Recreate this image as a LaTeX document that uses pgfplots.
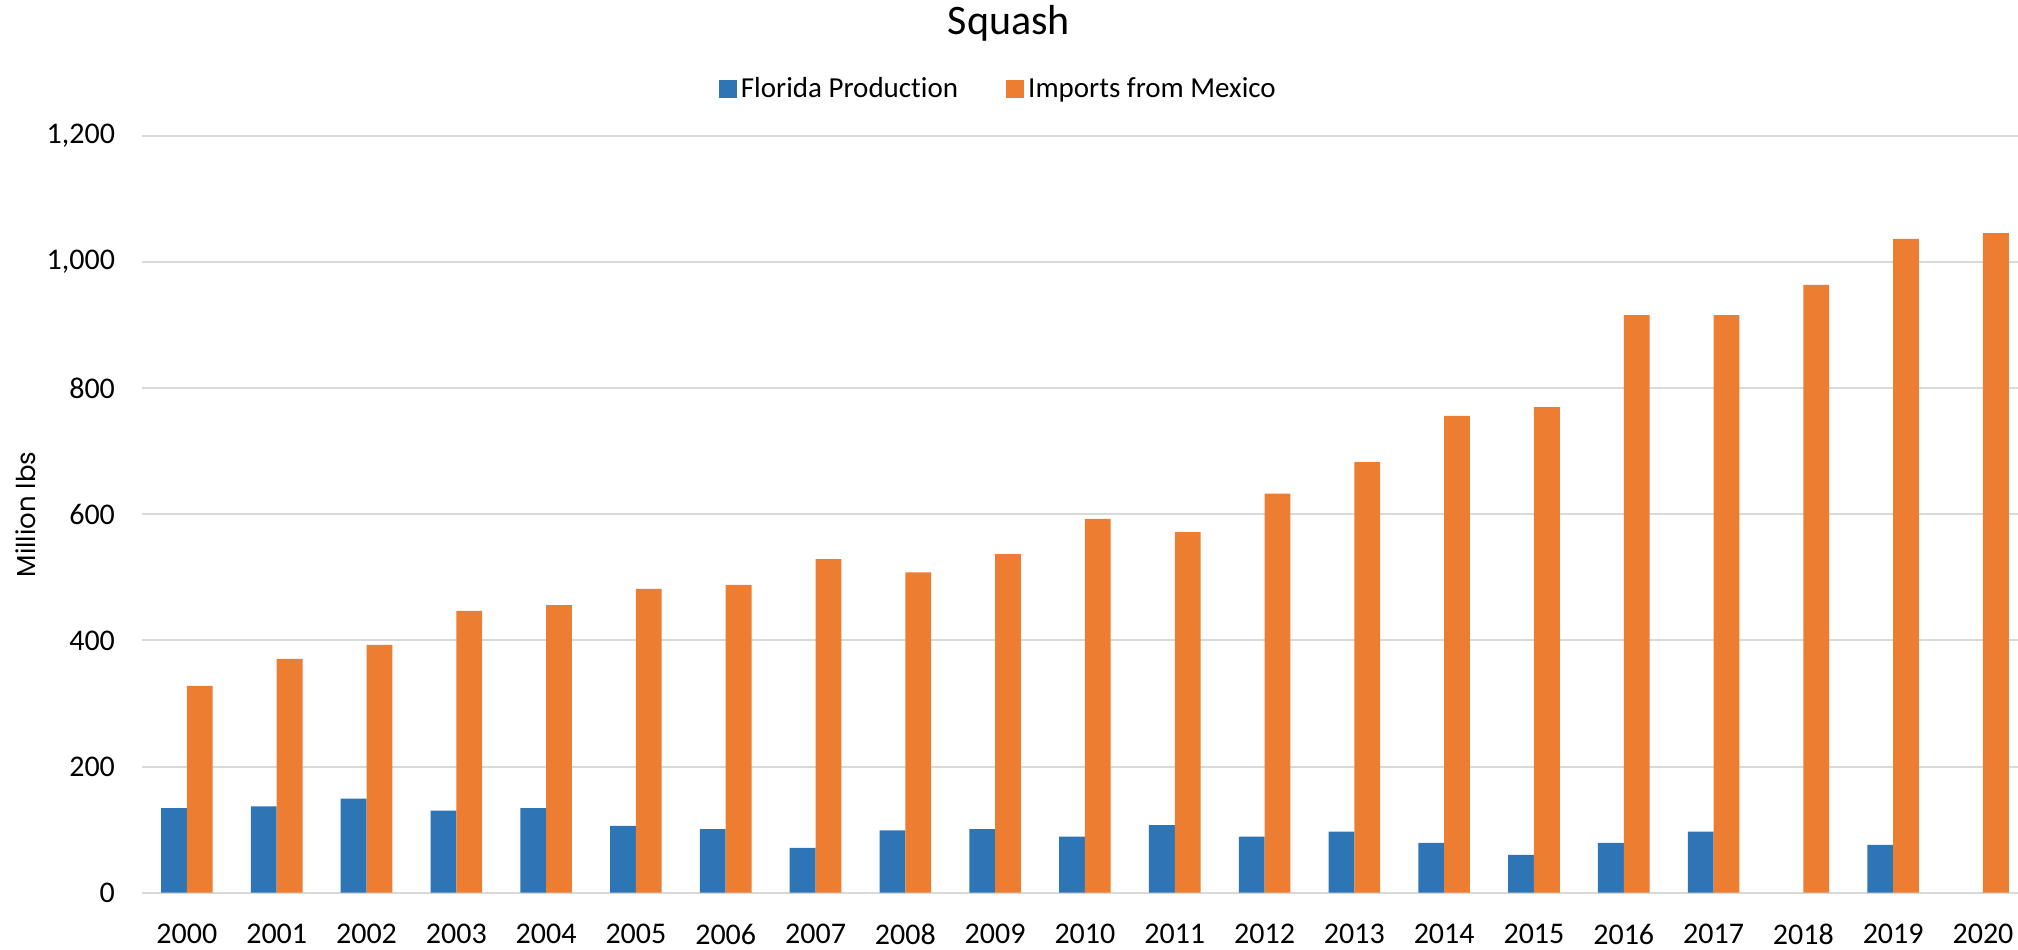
\documentclass[border=0pt]{standalone}
\usepackage{fontspec}
\setmainfont{Carlito}[Ligatures=NoCommon]
\newfontfamily\ylfont{Poppins}
\usepackage{pgfplots}
\pgfplotsset{compat=1.18}
\definecolor{cblue}{HTML}{2E75B6}
\definecolor{corange}{HTML}{ED7D31}
\definecolor{cgrid}{HTML}{D9D9D9}
\begin{document}
\begin{tikzpicture}
\path[use as bounding box] (-71pt,-28.15pt) rectangle (938pt,446.35pt);
\begin{axis}[
  at={(0,0)}, anchor=south west,
  scale only axis,
  width=938pt, height=378.35pt,
  xmin=-0.5, xmax=20.39,
  ymin=0, ymax=1200,
  ytick={0,200,400,600,800,1000,1200},
  xtick={0,...,20},
  xticklabels={2000,2001,2002,2003,2004,2005,2006,2007,2008,2009,2010,2011,2012,2013,2014,2015,2016,2017,2018,2019,2020},
  ybar=0pt, bar width=12.9pt,
  axis line style={draw=none},
  tick style={draw=none},
  ymajorgrids,
  major grid style={color=cgrid, line width=1pt},
  /pgf/number format/assume math mode=true,
  /pgf/number format/1000 sep={,},
  scaled y ticks=false,
  tick label style={font=\fontsize{15}{18}\selectfont},
  yticklabel style={anchor=east, xshift=-10pt},
  xticklabel style={yshift=-8pt},
  ylabel={\ylfont Million lbs},
  ylabel style={font=\fontsize{13}{15}\selectfont, at={(axis description cs:-0.0618,0.5)}, anchor=center, rotate=0},
  legend columns=2,
  legend style={draw=none, fill=none, at={(0.457,1.062)}, anchor=center,
    font=\fontsize{14.5}{17}\selectfont,
    /tikz/every even column/.append style={column sep=22pt}},
  legend image code/.code={\fill[#1, draw=none] (0pt,-4.5pt) rectangle (9pt,4.5pt);},
]
\addplot[fill=cblue, draw=none] coordinates {
(0,134) (1,137) (2,149) (3,130) (4,134) (5,106) (6,101) (7,71) (8,99) (9,101)
(10,89) (11,107) (12,89) (13,97) (14,79) (15,60) (16,79) (17,97) (19,76)};
\addplot[fill=corange, draw=none] coordinates {
(0,328) (1,371) (2,393) (3,447) (4,456) (5,482) (6,488) (7,529) (8,508) (9,537)
(10,593) (11,572) (12,633) (13,683) (14,756) (15,770) (16,916) (17,916) (18,964) (19,1037) (20,1046)};
\legend{Florida Production, Imports from Mexico}
\end{axis}
\node[font=\fontsize{21}{25}\selectfont] at (433.5pt,434.85pt) {Squash};
\end{tikzpicture}
\end{document}
